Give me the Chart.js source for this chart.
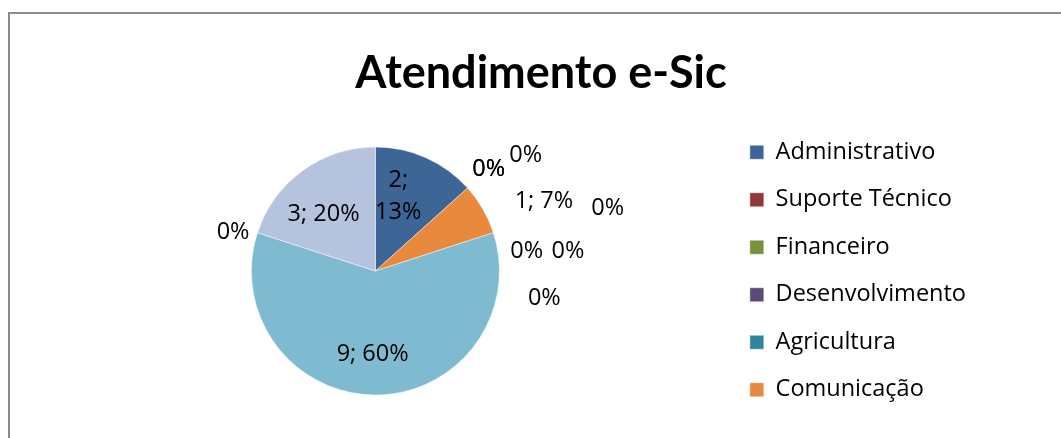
<!DOCTYPE html>
<html>
<head>
<meta charset="utf-8">
<title>Atendimento e-Sic</title>
<script src="https://cdn.jsdelivr.net/npm/chart.js@4.4.0/dist/chart.umd.min.js"></script>
<style>
  html, body { margin: 0; padding: 0; background: #fff; overflow: hidden; }
  #frame { position: absolute; left: 8px; top: 12px; width: 1062px; height: 436px; border: 2px solid #8c8c8c; }
</style>
</head>
<body>
<div id="frame"><canvas id="esicPie"></canvas></div>
<script>
// data
const titulo = 'Atendimento e-Sic';
const categorias = ['Administrativo', 'Suporte Técnico', 'Financeiro', 'Desenvolvimento', 'Agricultura', 'Comunicação',
  'Categoria 7', 'Categoria 8', 'Categoria 9', 'Categoria 10', 'Categoria 11', 'Categoria 12'];
const atendimentos = [2, 0, 0, 0, 0, 1, 0, 0, 0, 9, 0, 3];
const cores = ['#3d6596', '#953735', '#76923c', '#5f497a', '#31849b', '#e8893e',
  '#95b3d7', '#d99694', '#c3d69b', '#7ebbd0', '#b2a1c7', '#b5c3df'];
const legendaVisivel = 6; // the legend only had room for the first six

// where each data label sits: [fraction of radius, angle shift in degrees]
const posRotulo = [
  [0.63, -7], [1.23, 0], [1.23, 0], [1.53, 4.4], [1.94, 27], [1.47, 7.6],
  [1.23, 10.7], [1.56, 12.3], [1.38, 27.2], [0.67, 1.9], [1.19, -2.7], [0.62, -6.4]
];

const rotulosPlugin = {
  id: 'rotulos',
  afterDatasetsDraw(chart) {
    const ctx = chart.ctx;
    const meta = chart.getDatasetMeta(0);
    const total = atendimentos.reduce((a, b) => a + b, 0);
    ctx.save();
    ctx.font = '23.5px "Open Sans"';
    ctx.fillStyle = '#000';
    ctx.textAlign = 'center';
    ctx.textBaseline = 'middle';
    meta.data.forEach((arc, i) => {
      const v = atendimentos[i];
      const pct = Math.round(v / total * 100) + '%';
      const [f, shift] = posRotulo[i];
      const a = (arc.startAngle + arc.endAngle) / 2 + shift * Math.PI / 180;
      const r = arc.outerRadius * f;
      const x = arc.x + Math.cos(a) * r;
      const y = arc.y + Math.sin(a) * r;
      if (!v) { ctx.fillText(pct, x, y); return; }
      // narrow slices get the label split in two lines
      if (arc.endAngle - arc.startAngle < Math.PI / 3 && f < 1) {
        ctx.fillText(v + ';', x, y - 16);
        ctx.fillText(pct, x, y + 16);
      } else {
        ctx.fillText(v + '; ' + pct, x, y);
      }
    });
    ctx.restore();
  }
};

// title centred on the whole frame, not on the padded layout
const tituloPlugin = {
  id: 'tituloCentro',
  afterDraw(chart) {
    const ctx = chart.ctx;
    ctx.save();
    ctx.font = 'bold 45px Lato';
    ctx.fillStyle = '#000';
    ctx.textAlign = 'center';
    ctx.textBaseline = 'alphabetic';
    ctx.fillText(titulo, chart.width / 2, 74);
    ctx.restore();
  }
};

new Chart(document.getElementById('esicPie'), {
  type: 'pie',
  data: {
    labels: categorias,
    datasets: [{
      data: atendimentos,
      backgroundColor: cores,
      borderColor: 'rgba(255,255,255,0.6)',
      borderWidth: 0.75,
      radius: 124
    }]
  },
  options: {
    responsive: true,
    maintainAspectRatio: false,
    animation: false,
    layout: { padding: { left: 15, right: 96, top: 90, bottom: 12 } },
    plugins: {
      title: { display: false },
      legend: {
        position: 'right',
        labels: {
          color: '#000',
          font: { family: '"Open Sans"', size: 23.5 },
          boxWidth: 14,
          boxHeight: 14,
          padding: 24,
          filter: (item) => item.index < legendaVisivel
        }
      },
      tooltip: { enabled: false }
    }
  },
  plugins: [rotulosPlugin, tituloPlugin]
});
</script>
</body>
</html>
